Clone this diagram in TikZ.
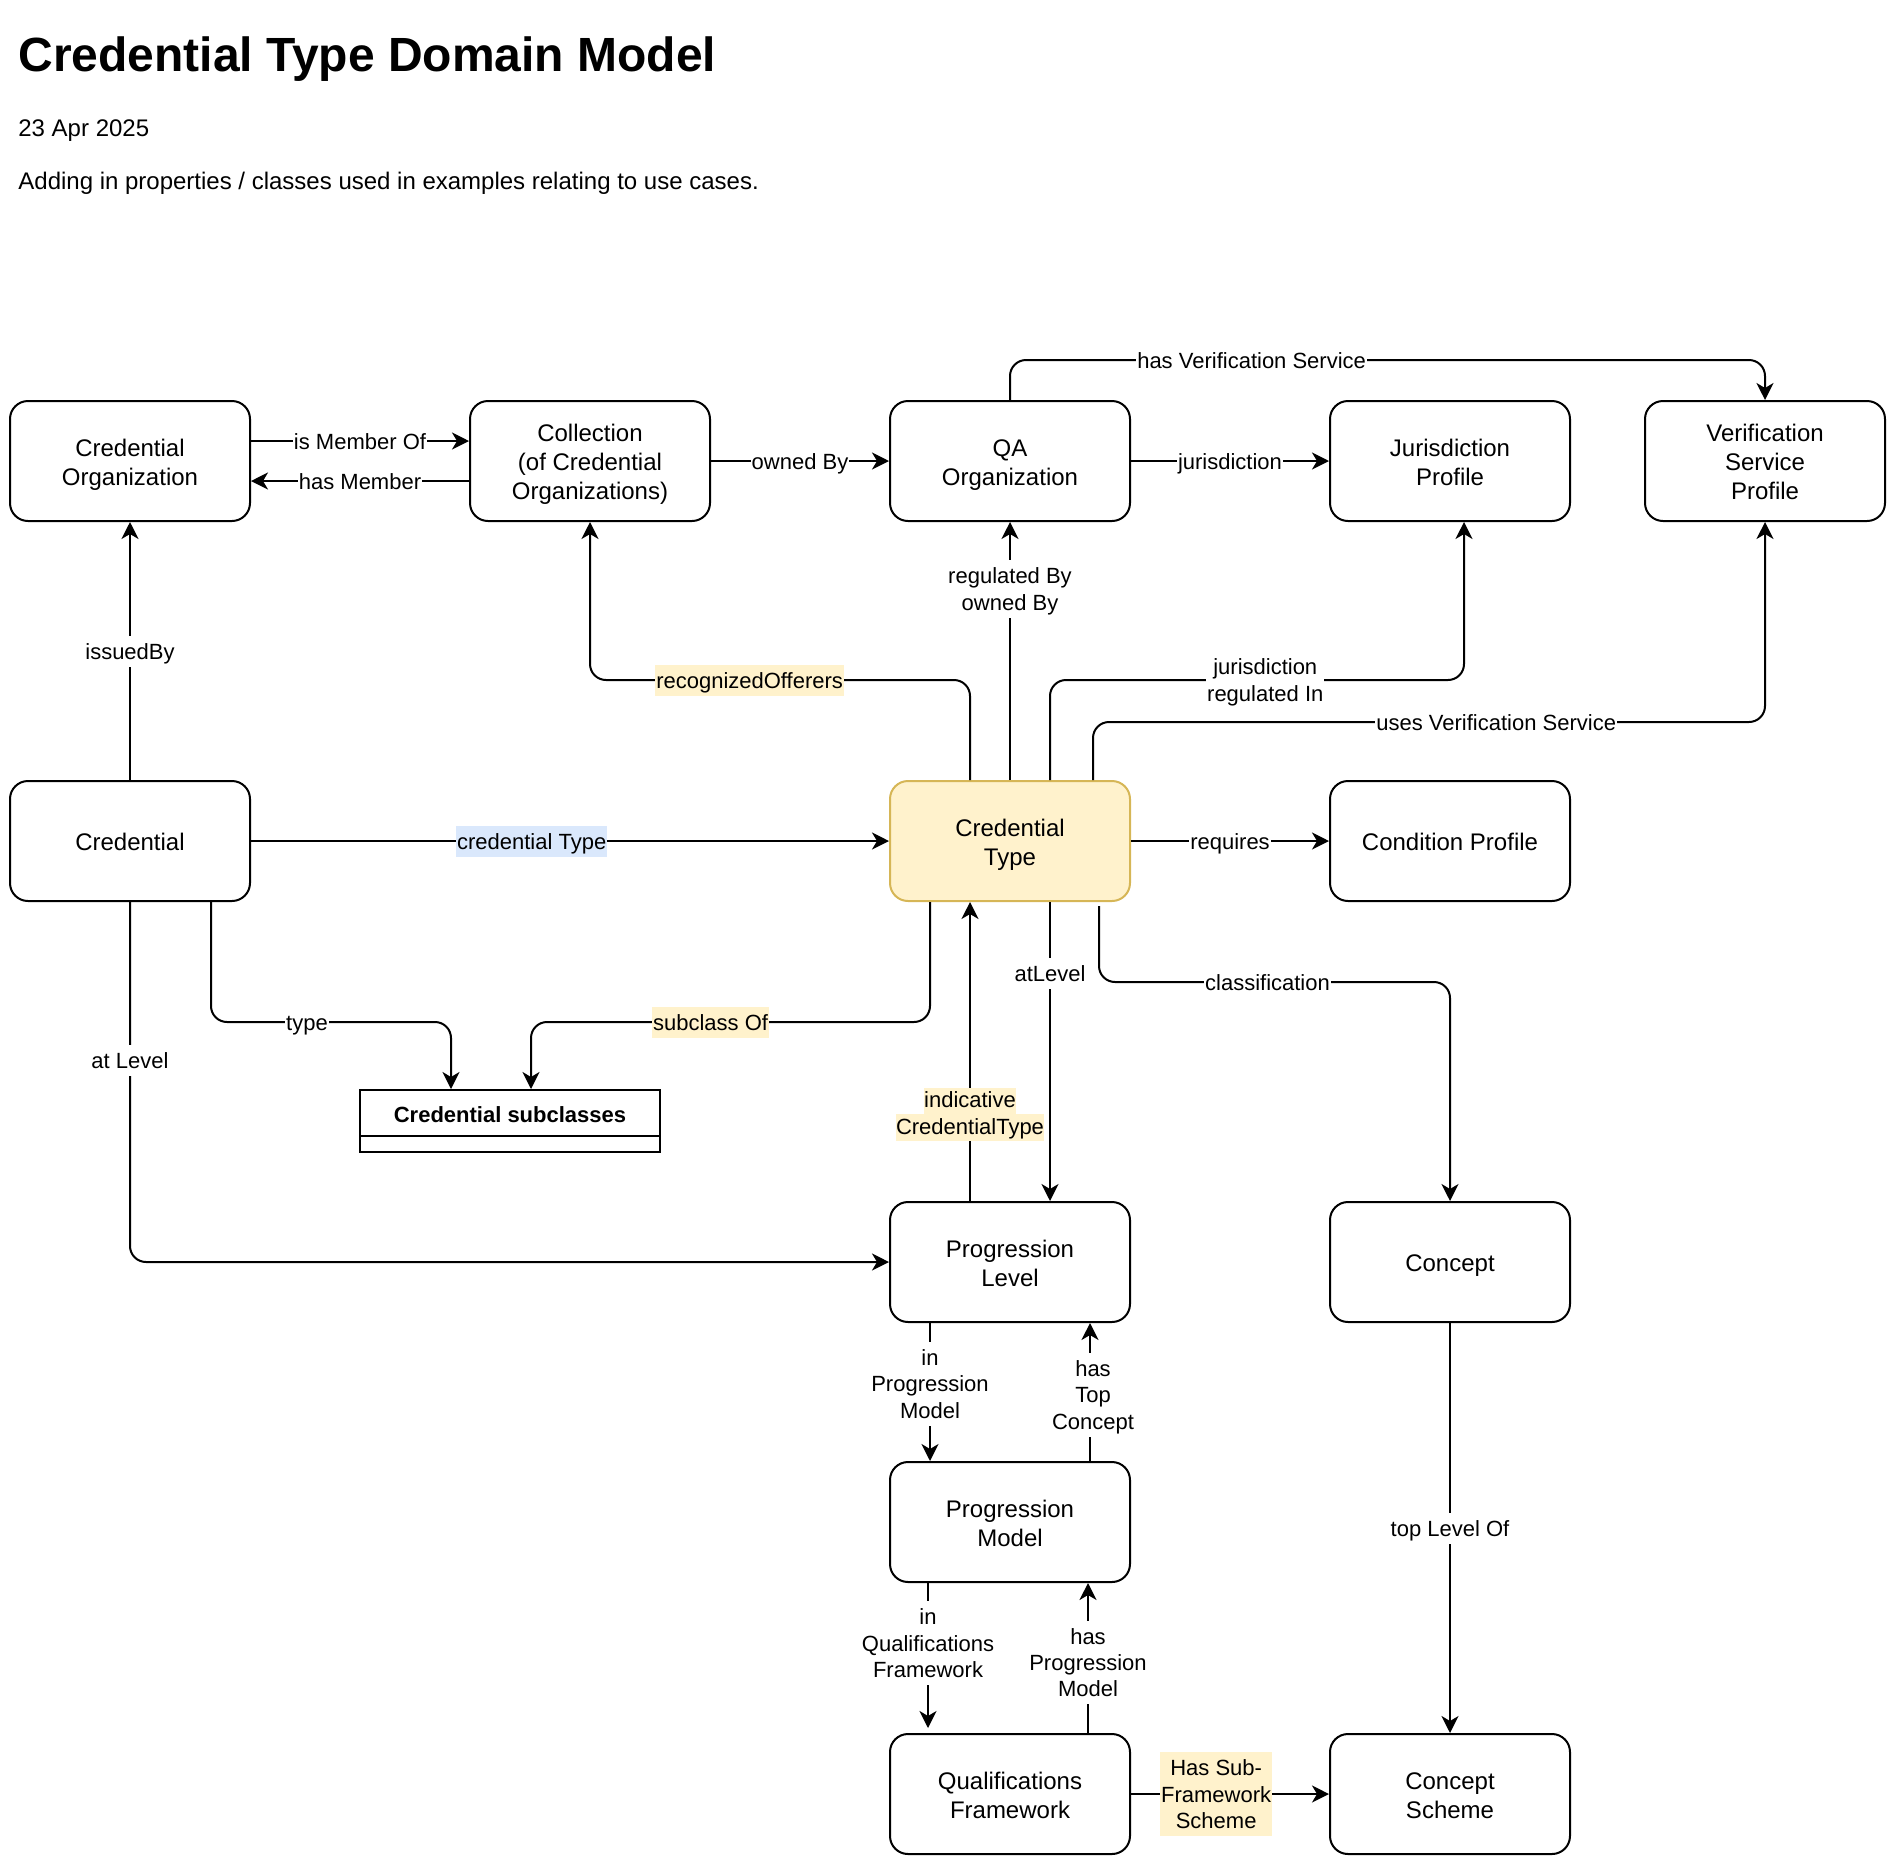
\documentclass[tikz,border=0pt]{standalone}
\usepackage{fontspec}
\setmainfont{Liberation Sans}
\usetikzlibrary{arrows.meta}
\definecolor{typefill}{HTML}{FFF2CC}
\definecolor{typedraw}{HTML}{D6B656}
\definecolor{yellowbg}{HTML}{FFF2CC}
\definecolor{bluebg}{HTML}{DAE8FC}
\newcommand{\hlline}[1]{{\setlength{\fboxsep}{0pt}\colorbox{yellowbg}{\rule[-3.2pt]{0pt}{13.2pt}#1}}}
\newcommand{\clsfirst}{\rule{0pt}{12.6pt}}
\newcommand{\lblfirst}{\rule{0pt}{11pt}}

\begin{document}
\begin{tikzpicture}[x=1pt,y=-1pt,
  cls/.style={draw,line width=1pt,rounded corners=9pt,minimum width=120pt,minimum height=60pt,align=center,font=\fontsize{12}{14.4}\selectfont,
    execute at begin node={\clsfirst},execute at end node={\rule[-3pt]{0pt}{3pt}}},
  rel/.style={-{Stealth[length=8.5pt,width=8.5pt,inset=2.5pt]},line width=1pt,rounded corners=8pt},
  lbl/.style={fill=white,sharp corners,inner xsep=0.5pt,inner ysep=0.75pt,align=center,font=\fontsize{11}{13.2}\selectfont,
    execute at begin node={\lblfirst},execute at end node={\rule[-3pt]{0pt}{3pt}}},
  ylbl/.style={lbl,fill=yellowbg},
  blbl/.style={lbl,fill=bluebg}]
  \useasboundingbox (0,0) rectangle (948,932);
  \node[anchor=base west,inner sep=0,font=\bfseries\fontsize{24}{28}\selectfont] (title) at (9,35.5) {Credential Type Domain Model};
  \node[anchor=base west,inner sep=0,font=\fontsize{12}{14}\selectfont] (date) at (9,68.3) {23 Apr 2025};
  \node[anchor=base west,inner sep=0,font=\fontsize{12}{14}\selectfont] (note) at (9,94.7) {Adding in properties / classes used in examples relating to use cases.};

  \node[cls] (credorg) at (65,230.5) {\clsfirst Credential\\Organization};
  \node[cls] (coll) at (295,230.5) {\clsfirst Collection\\(of Credential\\Organizations)};
  \node[cls] (qaorg) at (505,230.5) {\clsfirst QA\\Organization};
  \node[cls] (jurprof) at (725,230.5) {\clsfirst Jurisdiction\\Profile};
  \node[cls] (vsp) at (882.5,230.5) {\clsfirst Verification\\Service\\Profile};
  \node[cls] (cred) at (65,420.5) {Credential};
  \node[cls,fill=typefill,draw=typedraw] (credtype) at (505,420.5) {\clsfirst Credential\\Type};
  \node[cls] (condprof) at (725,420.5) {Condition Profile};
  \node[cls,rounded corners=0pt,minimum width=150pt,minimum height=23pt,font=\bfseries\fontsize{11}{13}\selectfont] (subcls) at (255,556.5) {Credential subclasses};
  \node[minimum width=150pt,minimum height=7pt,inner sep=0,anchor=north] (subrow) at (subcls.south) {};
  \draw[line width=1pt] (subrow.north west) |- (subrow.south east) -- (subrow.north east);
  \node[cls] (proglevel) at (505,631) {\clsfirst Progression\\Level};
  \node[cls] (concept) at (725,631) {Concept};
  \node[cls] (progmodel) at (505,761) {\clsfirst Progression\\Model};
  \node[cls] (qf) at (505,897) {\clsfirst Qualifications\\Framework};
  \node[cls] (scheme) at (725,897) {\clsfirst Concept\\Scheme};

  \draw[rel] ([yshift=10pt]credorg.east) -- node[lbl]{is Member Of} ([yshift=10pt]coll.west);
  \draw[rel] ([yshift=-10pt]coll.west) -- node[lbl]{has Member} ([yshift=-10pt]credorg.east);
  \draw[rel] (coll) -- node[lbl]{owned By} (qaorg);
  \draw[rel] (qaorg) -- node[lbl]{jurisdiction} (jurprof);
  \draw[rel] (qaorg.north) -- ++(0,-20) -| node[lbl,pos=.16]{has Verification Service} (vsp.north);
  \draw[rel] (credtype) -- node[lbl,pos=.74]{\lblfirst regulated By\\owned By} (qaorg);
  \draw[rel] ([xshift=-20pt]credtype.north) -- ++(0,-50) -| node[ylbl,pos=.29]{recognizedOfferers} (coll.south);
  \draw[rel] ([xshift=20pt]credtype.north) -- ++(0,-50) -| node[lbl,pos=.26]{\lblfirst jurisdiction\\regulated In} ([xshift=7pt]jurprof.south);
  \draw[rel] ([xshift=41.5pt]credtype.north) -- ++(0,-29) -| node[lbl,pos=.3]{uses Verification Service} (vsp.south);
  \draw[rel] (cred) -- node[lbl]{issuedBy} (credorg);
  \draw[rel] (cred) -- node[blbl,pos=.44]{credential Type} (credtype);
  \draw[rel] (credtype) -- node[lbl]{requires} (condprof);
  \draw[rel] ([xshift=40.5pt]cred.south) -- ++(0,60) -| node[lbl,pos=.2]{type} ([xshift=-29.5pt]subcls.north);
  \draw[rel] ([xshift=-40pt]credtype.south) -- ++(0,60) -| node[ylbl,pos=.275]{subclass Of} ([xshift=10.5pt]subcls.north);
  \draw[rel] (cred.south) |- node[lbl,pos=.22]{at Level} (proglevel.west);
  \draw[rel] ([xshift=20pt]credtype.south) -- node[lbl,pos=.24]{atLevel} ([xshift=20pt]proglevel.north);
  \draw[rel] ([xshift=-20pt]proglevel.north) -- node[font=\fontsize{11}{13.2}\selectfont,inner sep=0pt,align=center,pos=.29]{\hlline{indicative}\\\hlline{CredentialType}} ([xshift=-20pt]credtype.south);
  \draw[rel] ([xshift=44.5pt,yshift=-2pt]credtype.south) -- ++(0,38) -| node[lbl,pos=.24]{classification} (concept.north);
  \draw[rel] ([xshift=-40pt]proglevel.south) -- node[lbl,pos=.44]{\lblfirst in\\Progression\\Model} ([xshift=-40pt]progmodel.north);
  \draw[rel] ([xshift=40pt]progmodel.north) -- node[lbl,pos=.48,xshift=1.5pt]{\lblfirst has\\Top\\Concept} ([xshift=40pt]proglevel.south);
  \draw[rel,shorten >=2.5pt] ([xshift=-41pt]progmodel.south) -- node[lbl,pos=.4]{\lblfirst in\\Qualifications\\Framework} ([xshift=-41pt]qf.north);
  \draw[rel] ([xshift=39pt]qf.north) -- node[lbl,pos=.47]{\lblfirst has\\Progression\\Model} ([xshift=39pt]progmodel.south);
  \draw[rel] (concept) -- node[lbl]{top Level Of} (scheme);
  \draw[rel] (qf) -- node[ylbl,pos=.43]{\lblfirst Has Sub-\\Framework\\Scheme} (scheme);
\end{tikzpicture}
\end{document}
